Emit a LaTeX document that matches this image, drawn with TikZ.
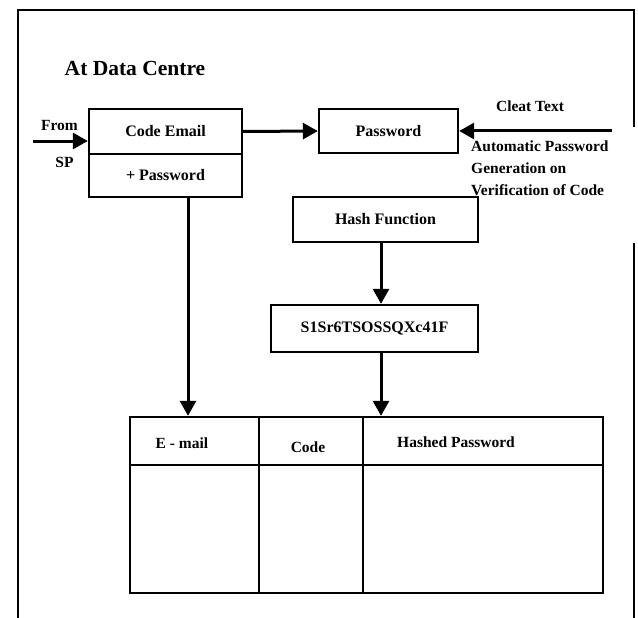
\documentclass[tikz,border=0pt]{standalone}
\usepackage{fontspec}
\setmainfont{Liberation Serif}
\usetikzlibrary{arrows.meta}
\begin{document}
\begin{tikzpicture}[x=1pt,y=-1pt,
  lbl/.style={font=\fontsize{15.5}{22}\selectfont\bfseries, inner sep=0pt},
  box/.style={draw, line width=2.4pt, inner sep=0pt, font=\fontsize{16}{18}\selectfont\bfseries},
  cell/.style={draw, line width=2.4pt, inner sep=0pt},
  arr/.style={line width=3pt, -{Triangle[length=15pt,width=16pt]}},
  frame/.style={line width=2.2pt}]
\useasboundingbox (0,0) rectangle (638,618);

% outer frame, open at the bottom and on the right beside the incoming arrow
\draw[frame] (18,618) -- (18,10) -- (634,10) -- (634,127);
\draw[frame] (634,243) -- (634,618);

\node[lbl, font=\fontsize{21.5}{24}\selectfont\bfseries] (title) at (135,68) {At Data Centre};

% input record
\node[box, minimum width=153pt, minimum height=45pt] (ce) at (165.5,131.5) {Code Email};
\node[box, minimum width=153pt, minimum height=43pt] (pw) at (165.5,175.5) {+ Password};

\node[box, minimum width=139pt, minimum height=44pt] (pass) at (388.5,131) {Password};
\node[box, minimum width=185pt, minimum height=45pt] (hash) at (385.5,219.5) {Hash Function};
\node[box, minimum width=207pt, minimum height=47pt] (s1) at (374.5,328.5) {S1Sr6TSOSSQXc41F};

% side labels
\node[lbl] (from) at (59.5,126) {From};
\node[lbl] (sp) at (64.5,162) {SP};
\node[lbl] (cleat) at (530,106) {Cleat Text};
\node[lbl, anchor=west, align=left] (auto) at (471,168)
  {Automatic Password\\Generation on\\Verification of Code};

% stored table
\node[cell, minimum width=129pt, minimum height=48pt] (h1) at (194.5,441) {};
\node[cell, minimum width=104pt, minimum height=48pt] (h2) at (311,441) {};
\node[cell, minimum width=240pt, minimum height=48pt] (h3) at (483,441) {};
\node[cell, minimum width=129pt, minimum height=128pt] (b1) at (194.5,529) {};
\node[cell, minimum width=104pt, minimum height=128pt] (b2) at (311,529) {};
\node[cell, minimum width=240pt, minimum height=128pt] (b3) at (483,529) {};
\node[lbl] (t1) at (182,443) {E - mail};
\node[lbl] (t2) at (308,447) {Code};
\node[lbl] (t3) at (456,442) {Hashed Password};

% connectors
\coordinate (spin) at (33,141);
\coordinate (ctin) at (612,131);
\draw[arr] (spin) -- (spin -| ce.west);
\draw[arr] (ce.east) -- (pass.west);
\draw[arr] (ctin) -- (pass.east);
\draw[arr] ([xshift=-4.5pt]hash.south) -- ([xshift=-4.5pt]hash.south |- s1.north);
\draw[arr] ([xshift=6.5pt]s1.south) -- ([xshift=6.5pt]s1.south |- h3.north);
\draw[arr] ([xshift=22.5pt]pw.south) -- ([xshift=22.5pt]pw.south |- h1.north);
\end{tikzpicture}
\end{document}
